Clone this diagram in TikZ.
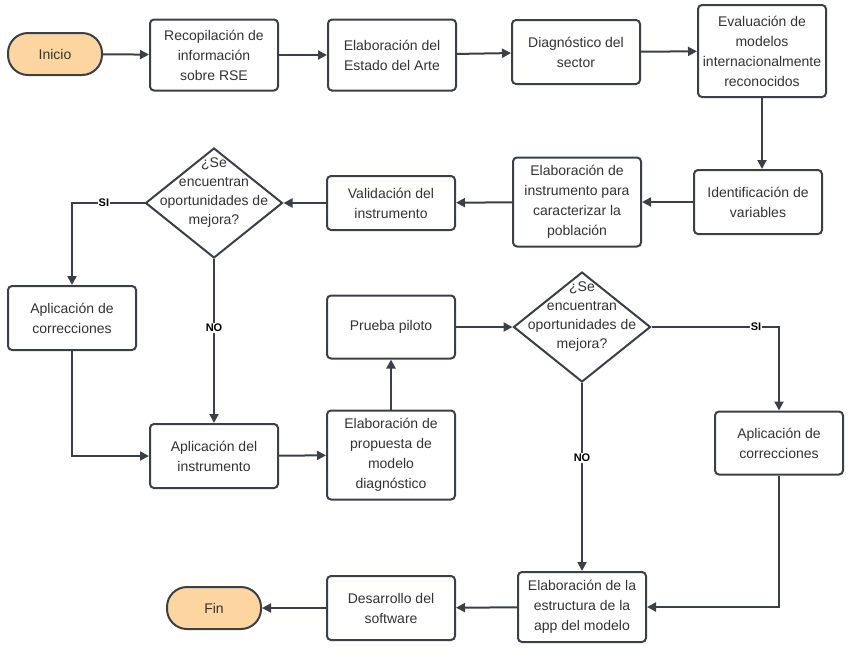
\documentclass[tikz,border=0pt]{standalone}
\usepackage{fontspec}
\setmainfont{Liberation Sans}
\usetikzlibrary{shapes.geometric,arrows.meta}
\definecolor{linegray}{HTML}{3B4048}
\definecolor{textgray}{HTML}{333333}
\definecolor{startfill}{HTML}{FCD5A0}

\begin{document}
\begin{tikzpicture}[x=1pt,y=-1pt]
\tikzstyle{process} = [draw=linegray,line width=2pt,rounded corners=4pt,fill=white,text=textgray,align=center,minimum width=128pt,minimum height=64pt,inner sep=0pt,font=\fontsize{14}{20}\selectfont];
\tikzstyle{terminal} = [draw=linegray,line width=2pt,rounded corners=20pt,fill=startfill,text=textgray,minimum width=94pt,minimum height=42pt,inner sep=0pt,font=\fontsize{14}{20}\selectfont];
\tikzstyle{decision} = [draw=linegray,line width=2pt,diamond,fill=white,minimum width=137pt,minimum height=110pt,inner sep=0pt];
\tikzstyle{question} = [text=textgray,align=center,inner sep=0pt,font=\fontsize{14}{19}\selectfont];
\tikzstyle{flow} = [draw=linegray,line width=2pt,-{Triangle[length=9pt,width=9pt]}];
\tikzstyle{answer} = [fill=white,text=black,inner sep=1pt,font=\bfseries\fontsize{11}{11}\selectfont];
\useasboundingbox (0,0) rectangle (858,657);
% first row
\node [terminal] (inicio) at (55,54) {Inicio};
\node [process,minimum height=71pt] (recop) at (214,55) {Recopilación de\\información\\sobre RSE};
\node [process,minimum height=71pt] (estado) at (392,55) {Elaboración del\\Estado del Arte};
\node [process] (diag) at (576,52) {Diagnóstico del\\sector};
\node [process,minimum height=92pt] (eval) at (762,51) {Evaluación de\\modelos\\internacionalmente\\reconocidos};
% second row
\node [process] (ident) at (758,202) {Identificación de\\variables};
\node [process,minimum height=89pt] (instr) at (577,202) {Elaboración de\\instrumento para\\caracterizar la\\población};
\node [process,minimum height=54pt] (valid) at (391,203) {Validación del\\instrumento};
\node [decision] (dec1) at (214,203) {};
\node [question] (dec1txt) at (214,193) {¿Se\\encuentran\\oportunidades de\\mejora?};
% middle part
\node [process] (corr1) at (72,318) {Aplicación de\\correcciones};
\node [process] (aplic) at (214,456) {Aplicación del\\instrumento};
\node [process,minimum height=89pt] (prop) at (391,455) {Elaboración de\\propuesta de\\modelo\\diagnóstico};
\node [process,minimum height=63pt] (piloto) at (391,327) {Prueba piloto};
\node [decision] (dec2) at (582,327) {};
\node [question] (dec2txt) at (582,317) {¿Se\\encuentran\\oportunidades de\\mejora?};
\node [process,minimum height=63pt] (corr2) at (779,443) {Aplicación de\\correcciones};
% last row
\node [process,minimum height=70pt] (estruc) at (582,607) {Elaboración de la\\estructura de la\\app del modelo};
\node [process] (soft) at (391,608) {Desarrollo del\\software};
\node [terminal] (fin) at (214,608) {Fin};
% connectors
\draw [flow] (inicio) -- (recop);
\draw [flow] (recop) -- (estado);
\draw [flow] (estado) -- (diag);
\draw [flow] (diag) -- (eval);
\draw [flow] (eval.south) -- (eval.south |- ident.north);
\draw [flow] (ident) -- (instr);
\draw [flow] (instr) -- (valid);
\draw [flow] (valid) -- (dec1);
\draw [flow] (dec1.west) -| node [answer,pos=0.28] (si1) {SI} (corr1.north);
\draw [flow] (dec1.south) -- node [answer,pos=0.42] (no1) {NO} (aplic.north);
\draw [flow] (corr1.south) |- (aplic.west);
\draw [flow] (aplic) -- (prop);
\draw [flow] (prop) -- (piloto);
\draw [flow] (piloto) -- (dec2);
\draw [flow] (dec2.east) -| node [answer,pos=0.41] (si2) {SI} (corr2.north);
\draw [flow] (dec2.south) -- node [answer,pos=0.4] (no2) {NO} (estruc.north);
\draw [flow] (corr2.south) |- (estruc.east);
\draw [flow] (estruc) -- (soft);
\draw [flow] (soft) -- (fin);
\end{tikzpicture}
\end{document}
